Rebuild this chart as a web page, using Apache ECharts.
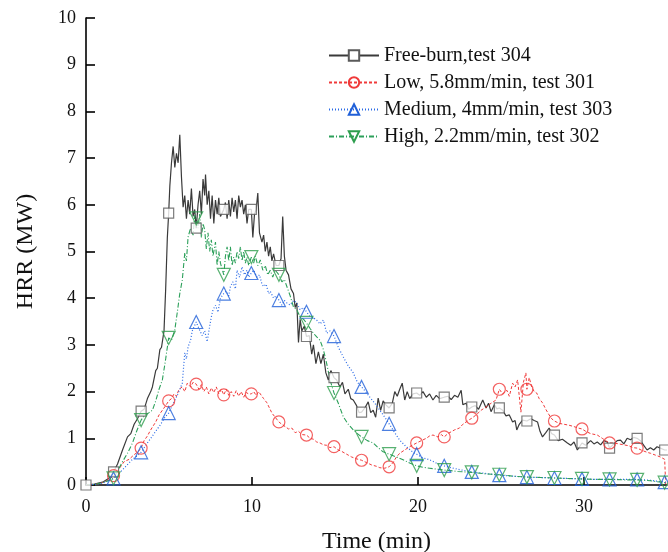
<!DOCTYPE html>
<html>
<head>
<meta charset="utf-8">
<script src="https://cdn.jsdelivr.net/npm/echarts@6/dist/echarts.min.js"></script>
<style>html,body{margin:0;padding:0;background:#fff}#c{width:668px;height:552px}</style>
</head>
<body>
<div id="c"></div>
<script>
const seriesNames = ['Free-burn,test 304', 'Low, 5.8mm/min, test 301', 'Medium, 4mm/min, test 303', 'High, 2.2mm/min, test 302'];
const xTicks = [0, 10, 20, 30];
const yTicks = [0, 1, 2, 3, 4, 5, 6, 7, 8, 9, 10];

const freeBurn = [[0,0],[0.5,0.02],[1,0.06],[1.4,0.15],[1.66,0.28],[1.9,0.45],[2.2,0.75],[2.5,1.03],[2.7,1.1],[2.9,1.3],[3.1,1.42],[3.32,1.58],[3.5,1.62],[3.7,1.85],[3.9,2.0],[4.0,2.1],[4.2,2.45],[4.3,2.5],[4.45,2.9],[4.55,2.95],[4.7,3.3],[4.8,4.2],[4.9,5.3],[4.98,5.82],[5.05,6.4],[5.15,6.9],[5.25,7.25],[5.35,6.8],[5.45,7.1],[5.55,6.9],[5.65,7.5],[5.75,6.6],[5.85,5.95],[5.95,6.2],[6.05,5.7],[6.15,6.1],[6.25,5.8],[6.35,6.35],[6.45,5.75],[6.55,5.9],[6.64,5.5],[6.75,6.0],[6.85,6.3],[6.95,5.8],[7.05,6.55],[7.15,6.2],[7.2,6.65],[7.3,6.0],[7.4,6.3],[7.5,5.7],[7.6,6.2],[7.7,5.6],[7.8,6.1],[7.9,5.8],[8.0,6.15],[8.1,5.75],[8.3,5.9],[8.4,6.05],[8.5,5.7],[8.6,6.1],[8.7,5.75],[8.8,6.15],[8.9,5.85],[9.0,6.1],[9.1,5.7],[9.2,6.2],[9.3,5.95],[9.4,6.1],[9.5,5.8],[9.6,6.0],[9.7,5.6],[9.8,5.9],[9.96,5.9],[10.05,5.3],[10.15,5.8],[10.25,5.9],[10.35,6.25],[10.45,5.4],[10.6,5.2],[10.7,5.35],[10.8,5.0],[10.9,5.2],[11.0,4.9],[11.1,5.1],[11.2,4.8],[11.3,4.95],[11.45,4.7],[11.62,4.7],[11.75,4.85],[11.85,5.75],[11.95,4.9],[12.05,4.6],[12.2,4.5],[12.35,4.2],[12.5,4.1],[12.6,3.8],[12.7,3.9],[12.8,3.05],[12.9,3.55],[13.0,3.3],[13.15,3.4],[13.28,3.18],[13.45,3.2],[13.6,2.8],[13.7,3.0],[13.85,2.6],[14.0,2.85],[14.15,2.6],[14.3,2.8],[14.45,2.4],[14.6,2.25],[14.75,2.45],[14.94,2.3],[15.1,2.25],[15.3,2.1],[15.45,2.2],[15.6,1.95],[15.8,2.05],[15.95,1.85],[16.1,1.82],[16.3,1.7],[16.45,1.55],[16.6,1.56],[16.8,1.65],[17.0,1.78],[17.15,1.55],[17.3,1.6],[17.45,1.45],[17.6,1.86],[17.75,1.6],[17.9,1.8],[18.05,1.72],[18.26,1.65],[18.45,1.75],[18.6,2.0],[18.75,1.9],[18.9,2.05],[19.05,2.18],[19.2,1.82],[19.35,2.0],[19.5,1.85],[19.7,1.95],[19.92,1.97],[20.1,1.92],[20.3,2.0],[20.5,1.88],[20.7,1.95],[20.9,1.82],[21.1,1.92],[21.3,1.85],[21.58,1.88],[21.8,1.9],[22.0,1.83],[22.2,1.92],[22.4,1.88],[22.6,2.03],[22.7,1.72],[22.9,1.75],[23.05,1.62],[23.24,1.67],[23.45,1.7],[23.65,1.62],[23.9,1.82],[24.1,1.65],[24.25,1.75],[24.4,1.57],[24.6,1.72],[24.75,1.63],[24.9,1.65],[25.1,1.6],[25.3,1.48],[25.5,1.5],[25.7,1.35],[25.85,1.38],[25.95,1.18],[26.1,1.3],[26.3,1.39],[26.56,1.37],[26.8,1.42],[27.0,1.38],[27.2,1.35],[27.35,1.15],[27.5,1.03],[27.7,1.12],[27.9,1.22],[28.05,1.1],[28.22,1.07],[28.45,0.95],[28.7,0.98],[29.0,0.9],[29.2,0.85],[29.4,0.92],[29.6,0.75],[29.88,0.9],[30.1,0.85],[30.4,0.95],[30.6,0.88],[30.8,0.92],[31.0,0.86],[31.2,0.95],[31.4,0.92],[31.54,0.79],[31.8,0.88],[32.0,0.95],[32.2,0.96],[32.4,0.88],[32.6,1.0],[32.8,0.97],[33.0,1.02],[33.2,1.0],[33.4,0.95],[33.6,0.85],[33.8,0.75],[34.0,0.8],[34.2,0.75],[34.4,0.82],[34.6,0.79],[34.86,0.75],[35,0.75]];
const freeBurnMarkers = [[0,0],[1.66,0.28],[3.32,1.58],[4.98,5.82],[6.64,5.5],[8.3,5.9],[9.96,5.9],[11.62,4.7],[13.28,3.18],[14.94,2.3],[16.6,1.56],[18.26,1.65],[19.92,1.97],[21.58,1.88],[23.24,1.67],[24.9,1.65],[26.56,1.37],[28.22,1.07],[29.88,0.9],[31.54,0.79],[33.2,1.0],[34.86,0.75]];

const low = [[0,0],[0.5,0.01],[1.0,0.05],[1.4,0.12],[1.66,0.2],[2.0,0.35],[2.3,0.5],[2.6,0.55],[2.9,0.65],[3.1,0.7],[3.32,0.79],[3.5,0.95],[3.7,1.05],[3.85,1.15],[4.0,1.24],[4.2,1.35],[4.4,1.5],[4.6,1.6],[4.8,1.7],[4.98,1.8],[5.15,1.85],[5.3,1.95],[5.45,1.9],[5.6,2.05],[5.8,2.1],[5.95,2.0],[6.1,2.18],[6.3,2.1],[6.45,2.2],[6.64,2.16],[6.8,2.05],[6.95,2.15],[7.1,2.0],[7.25,2.1],[7.4,1.95],[7.55,2.08],[7.7,1.98],[7.85,2.1],[8.0,1.95],[8.15,2.05],[8.3,1.93],[8.45,2.05],[8.6,1.92],[8.75,2.0],[8.9,1.9],[9.05,2.02],[9.2,1.9],[9.35,2.0],[9.5,1.88],[9.65,1.98],[9.8,1.95],[9.96,1.95],[10.1,2.0],[10.25,1.92],[10.4,2.0],[10.5,1.97],[10.7,1.85],[10.9,1.76],[11.05,1.65],[11.2,1.54],[11.4,1.45],[11.62,1.35],[11.8,1.3],[12.0,1.25],[12.2,1.2],[12.4,1.22],[12.6,1.12],[12.8,1.15],[13.0,1.08],[13.28,1.07],[13.5,1.0],[13.7,0.98],[13.9,0.92],[14.1,0.9],[14.3,0.86],[14.5,0.85],[14.7,0.8],[14.94,0.82],[15.2,0.75],[15.4,0.72],[15.6,0.68],[15.8,0.64],[16.0,0.6],[16.3,0.56],[16.6,0.53],[16.9,0.48],[17.2,0.43],[17.5,0.4],[17.7,0.37],[18.0,0.36],[18.26,0.39],[18.5,0.48],[18.7,0.6],[18.9,0.68],[19.2,0.75],[19.5,0.82],[19.7,0.86],[19.92,0.9],[20.2,0.95],[20.5,1.0],[20.7,1.05],[20.9,1.07],[21.2,1.03],[21.4,1.08],[21.58,1.03],[21.8,1.1],[22.0,1.14],[22.2,1.18],[22.5,1.22],[22.7,1.3],[22.9,1.35],[23.1,1.4],[23.24,1.43],[23.5,1.5],[23.8,1.6],[24.1,1.67],[24.4,1.75],[24.7,1.82],[24.9,2.05],[25.1,1.95],[25.35,2.03],[25.5,1.9],[25.7,2.18],[25.85,2.1],[26.0,2.25],[26.2,1.56],[26.35,2.2],[26.5,2.4],[26.56,2.05],[26.7,2.3],[26.85,2.1],[27.0,2.0],[27.15,1.97],[27.3,1.85],[27.5,1.76],[27.7,1.62],[27.9,1.5],[28.05,1.42],[28.22,1.37],[28.5,1.32],[28.8,1.3],[29.1,1.28],[29.4,1.25],[29.65,1.22],[29.88,1.2],[30.1,1.15],[30.4,1.1],[30.8,1.07],[31.1,1.0],[31.3,0.95],[31.54,0.9],[31.8,0.9],[32.1,0.88],[32.4,0.86],[32.7,0.84],[32.95,0.8],[33.2,0.79],[33.5,0.74],[33.8,0.7],[34.0,0.68],[34.3,0.64],[34.6,0.6],[34.86,0.55],[34.92,0.02]];
const lowMarkers = [[1.66,0.2],[3.32,0.79],[4.98,1.8],[6.64,2.16],[8.3,1.93],[9.96,1.95],[11.62,1.35],[13.28,1.07],[14.94,0.82],[16.6,0.53],[18.26,0.39],[19.92,0.9],[21.58,1.03],[23.24,1.43],[24.9,2.05],[26.56,2.05],[28.22,1.37],[29.88,1.2],[31.54,0.9],[33.2,0.79]];

const medium = [[0,0],[0.5,0.01],[1.0,0.04],[1.4,0.1],[1.66,0.14],[2.0,0.25],[2.4,0.4],[2.8,0.55],[3.1,0.63],[3.32,0.7],[3.6,0.85],[3.9,1.0],[4.2,1.15],[4.5,1.3],[4.75,1.45],[4.98,1.54],[5.2,1.7],[5.4,1.85],[5.6,2.0],[5.8,2.18],[5.95,2.83],[6.05,2.7],[6.15,2.96],[6.3,3.1],[6.4,3.3],[6.64,3.49],[6.8,3.35],[6.9,3.38],[7.0,3.2],[7.15,3.3],[7.3,3.07],[7.45,3.4],[7.55,3.6],[7.65,3.75],[7.8,3.85],[7.95,3.7],[8.1,4.0],[8.3,4.1],[8.45,4.15],[8.6,4.05],[8.7,4.25],[8.85,4.35],[9.0,4.2],[9.1,4.6],[9.25,4.45],[9.4,4.67],[9.55,4.5],[9.7,4.6],[9.8,4.45],[9.96,4.54],[10.1,4.6],[10.3,4.45],[10.45,4.5],[10.6,4.3],[10.7,4.25],[10.85,4.3],[11.0,4.1],[11.1,4.15],[11.3,4.0],[11.45,4.05],[11.62,3.96],[11.8,3.85],[11.95,3.95],[12.1,3.9],[12.3,3.85],[12.5,3.95],[12.7,3.9],[12.9,3.75],[13.1,3.8],[13.28,3.71],[13.5,3.6],[13.7,3.58],[13.9,3.53],[14.1,3.45],[14.3,3.53],[14.5,3.25],[14.7,3.3],[14.94,3.19],[15.2,2.95],[15.5,2.74],[15.8,2.55],[16.1,2.4],[16.35,2.2],[16.6,2.1],[16.85,2.0],[17.1,1.88],[17.4,1.75],[17.7,1.6],[18.0,1.45],[18.26,1.31],[18.6,1.12],[18.9,0.96],[19.2,0.85],[19.5,0.76],[19.7,0.7],[19.92,0.66],[20.3,0.58],[20.7,0.54],[21.1,0.47],[21.58,0.41],[22.0,0.37],[22.5,0.33],[23.24,0.28],[24.0,0.25],[24.9,0.21],[25.7,0.19],[26.56,0.17],[27.4,0.16],[28.22,0.15],[29.0,0.14],[29.88,0.13],[30.7,0.12],[31.54,0.12],[32.4,0.12],[33.2,0.12],[34.0,0.1],[34.86,0.06],[35,0.05]];
const mediumMarkers = [[1.66,0.14],[3.32,0.7],[4.98,1.54],[6.64,3.49],[8.3,4.1],[9.96,4.54],[11.62,3.96],[13.28,3.71],[14.94,3.19],[16.6,2.1],[18.26,1.31],[19.92,0.66],[21.58,0.41],[23.24,0.28],[24.9,0.21],[26.56,0.17],[28.22,0.15],[29.88,0.13],[31.54,0.12],[33.2,0.12],[34.86,0.06]];

const high = [[0,0],[0.5,0.01],[1.0,0.05],[1.4,0.1],[1.66,0.14],[1.9,0.3],[2.2,0.5],[2.5,0.68],[2.8,0.9],[3.05,1.15],[3.32,1.39],[3.55,1.5],[3.8,1.55],[4.0,1.6],[4.2,1.8],[4.4,2.05],[4.6,2.25],[4.8,2.7],[4.98,3.15],[5.15,3.1],[5.35,3.32],[5.5,3.7],[5.65,4.1],[5.8,4.39],[5.95,4.97],[6.05,4.8],[6.15,5.31],[6.3,5.5],[6.45,5.35],[6.55,5.78],[6.64,5.71],[6.75,5.5],[6.85,5.8],[6.95,5.3],[7.05,5.6],[7.15,5.46],[7.25,5.05],[7.35,5.4],[7.45,5.0],[7.55,5.25],[7.65,4.9],[7.8,5.2],[7.9,4.7],[8.0,5.0],[8.1,4.75],[8.3,4.5],[8.4,4.9],[8.5,5.1],[8.6,4.8],[8.7,5.1],[8.8,4.7],[8.9,4.88],[9.0,4.75],[9.1,5.0],[9.2,4.85],[9.3,5.1],[9.4,4.8],[9.5,5.0],[9.6,4.75],[9.7,4.88],[9.8,4.7],[9.96,4.88],[10.1,4.75],[10.2,4.9],[10.35,4.7],[10.5,4.82],[10.65,4.6],[10.8,4.7],[10.95,4.5],[11.1,4.6],[11.25,4.45],[11.4,4.6],[11.62,4.5],[11.8,4.35],[11.95,4.4],[12.1,4.25],[12.3,4.05],[12.5,3.81],[12.7,3.75],[12.9,3.6],[13.1,3.55],[13.28,3.47],[13.5,3.35],[13.7,3.25],[13.9,3.17],[14.1,3.1],[14.3,2.9],[14.5,2.6],[14.7,2.25],[14.94,1.97],[15.2,1.75],[15.5,1.46],[15.8,1.3],[16.1,1.18],[16.35,1.1],[16.6,1.03],[16.95,0.95],[17.3,0.9],[17.6,0.8],[17.9,0.71],[18.26,0.66],[18.7,0.6],[19.1,0.54],[19.5,0.47],[19.92,0.41],[20.3,0.38],[20.7,0.36],[21.1,0.34],[21.58,0.32],[22.4,0.29],[23.24,0.27],[24.0,0.24],[24.9,0.22],[25.7,0.19],[26.56,0.17],[27.4,0.16],[28.22,0.15],[29.0,0.14],[29.88,0.13],[30.7,0.12],[31.54,0.12],[32.4,0.11],[33.2,0.11],[34.0,0.09],[34.86,0.05],[35,0.04]];
const highMarkers = [[1.66,0.14],[3.32,1.39],[4.98,3.15],[6.64,5.71],[8.3,4.5],[9.96,4.88],[11.62,4.5],[13.28,3.47],[14.94,1.97],[16.6,1.03],[18.26,0.66],[19.92,0.41],[21.58,0.32],[23.24,0.27],[24.9,0.22],[26.56,0.17],[28.22,0.15],[29.88,0.13],[31.54,0.12],[33.2,0.11],[34.86,0.05]];

const FONT = 'Liberation Serif, Times New Roman, serif';
const styles = [
  {line: '#3a3a3a', mark: '#5a5a5a', type: 'solid', sym: 'rect', size: 10, rot: 0, fill: '#ffffff', width: 1.2},
  {line: '#f03a3a', mark: '#f03a3a', type: [3, 2], sym: 'circle', size: 12, rot: 0, fill: 'rgba(255,255,255,0)', width: 1},
  {line: '#2a6ae6', mark: '#1f5fd8', type: [1, 2], sym: 'triangle', size: 13, rot: 0, fill: 'rgba(255,255,255,0)', width: 1.2},
  {line: '#2ca05a', mark: '#2e9e4e', type: [5, 2, 1, 2], sym: 'triangle', size: 13, rot: 180, fill: 'rgba(255,255,255,0)', width: 1.1}
];
const lines = [freeBurn, low, medium, high];
const marks = [freeBurnMarkers, lowMarkers, mediumMarkers, highMarkers];

const series = [];
lines.forEach((d, i) => {
  const s = styles[i];
  series.push({
    name: seriesNames[i], type: 'line', data: d, showSymbol: false,
    symbol: s.sym, symbolRotate: s.rot, symbolSize: s.size,
    lineStyle: {color: s.line, width: s.width, type: s.type},
    itemStyle: {color: s.fill, borderColor: s.mark, borderWidth: 1.2},
    z: 2 + i, silent: true
  });
});
marks.forEach((d, i) => {
  const s = styles[i];
  series.push({
    name: seriesNames[i], type: 'scatter', data: d,
    symbol: s.sym, symbolRotate: s.rot, symbolSize: s.size,
    itemStyle: {color: s.fill, borderColor: s.mark, borderWidth: 1.2},
    z: 10 + i, silent: true
  });
});

const chart = echarts.init(document.getElementById('c'), null, {renderer: 'canvas'});
chart.setOption({
  animation: false,
  backgroundColor: '#ffffff',
  grid: {left: 86, right: 1, top: 18, bottom: 67, containLabel: false, outerBoundsMode: 'none'},
  legend: {
    orient: 'vertical', left: 328, top: 45, padding: 0,
    itemWidth: 50, itemHeight: 13, itemGap: 6,
    data: seriesNames,
    textStyle: {fontFamily: FONT, fontSize: 20, color: '#111', lineHeight: 21, padding: [0, 0, 0, 0]},
    selectedMode: false
  },
  xAxis: {
    type: 'value', min: 0, max: 35, interval: 10,
    name: 'Time (min)', nameLocation: 'middle', nameGap: 45,
    nameTextStyle: {fontFamily: FONT, fontSize: 24, color: '#111'},
    axisLine: {lineStyle: {color: '#000', width: 1.6}},
    axisTick: {inside: true, length: 8, lineStyle: {color: '#000', width: 1.6}},
    axisLabel: {fontFamily: FONT, fontSize: 18, color: '#111', margin: 13, showMaxLabel: false,
      formatter: v => xTicks.indexOf(v) >= 0 ? String(v) : ''},
    splitLine: {show: false}
  },
  yAxis: {
    type: 'value', min: 0, max: 10, interval: 1,
    name: 'HRR (MW)', nameLocation: 'middle', nameGap: 48,
    nameTextStyle: {fontFamily: FONT, fontSize: 24, color: '#111'},
    axisLine: {lineStyle: {color: '#000', width: 1.6}},
    axisTick: {inside: true, length: 9, lineStyle: {color: '#000', width: 1.6}},
    axisLabel: {fontFamily: FONT, fontSize: 18, color: '#111', margin: 10,
      formatter: v => yTicks.indexOf(v) >= 0 ? String(v) : ''},
    splitLine: {show: false}
  },
  series: series
});
</script>
</body>
</html>
